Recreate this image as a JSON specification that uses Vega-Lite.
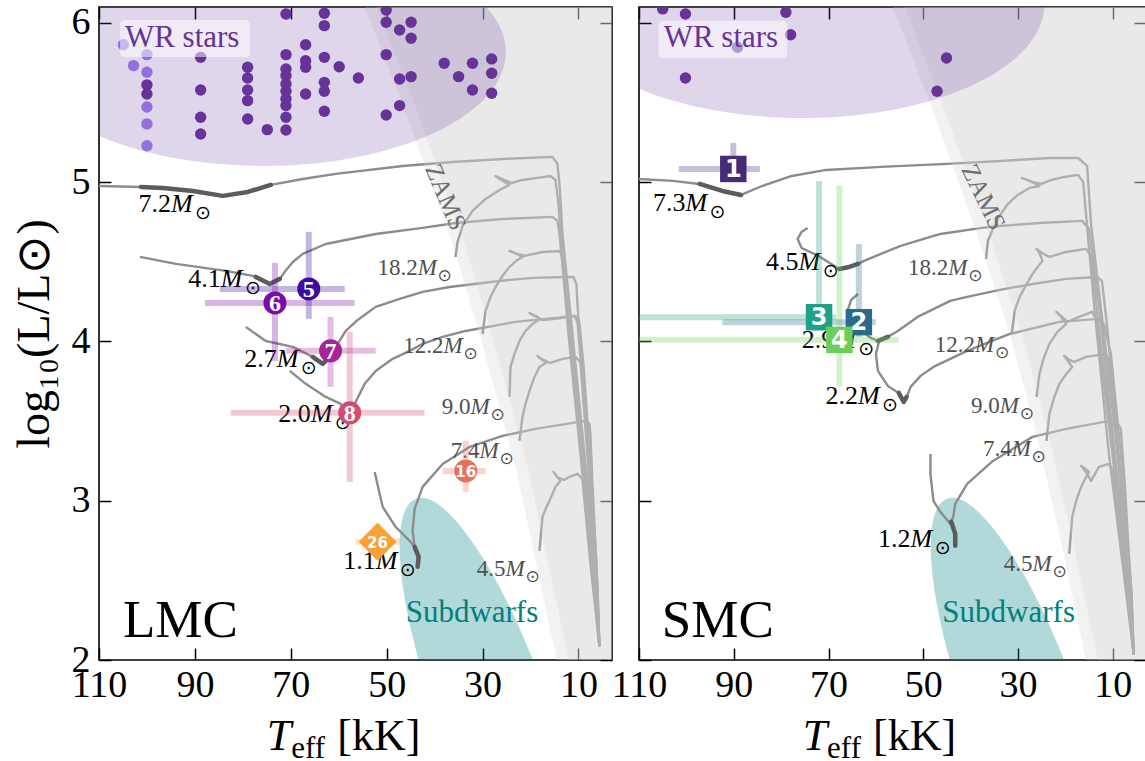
{
"$schema":"https://vega.github.io/schema/vega-lite/v6.json",
"background":"white",
"padding":{"left":10,"top":3,"right":0,"bottom":0},
"bounds":"flush",
"spacing":27,
"config":{
 "view":{"stroke":"black","strokeWidth":1.6},
 "axis":{"domain":false,"grid":false,"tickSize":-12,"tickWidth":1.5,"tickColor":"black","labelFont":"Liberation Serif","labelFontSize":38,"labelColor":"black","labelFlush":false,"labelOverlap":false,"titleFont":"Liberation Serif","titleFontSize":46,"titleFontWeight":"normal","titleColor":"black","zindex":1},
 "text":{"font":"Liberation Serif"}
},
"resolve":{"scale":{"x":"independent","y":"independent","color":"independent"}},
"datasets":{
 "trL":[
  {"k":"1","T":[35.63,35.21,34.17,32.08,29.38,26.46,24.38,26.46,27.29,25.83,23.96,21.67,18.54,15.83,14.79,14.17,13.33,12.08,10.63,9.17,7.71,6.46,5.63,6.04,7.08,8.75,10.42,12.08,13.33,13.96,14.38,15.42,25.83,36.25,46.67,60.63,67.5,74.17,78.96,84.17,90.42,96.67,101.25,109.8,113],
   "L":[4.531,4.625,4.725,4.82,4.895,4.951,4.983,5.02,5.039,5.02,4.995,5.014,5.027,5.039,5.014,4.863,4.487,4.047,3.608,3.169,2.729,2.352,2.089,2.352,2.792,3.294,3.796,4.298,4.675,4.989,5.115,5.159,5.146,5.127,5.102,5.052,5.02,4.983,4.939,4.914,4.945,4.964,4.97,4.976,4.976]},
  {"k":"2","T":[30.0,29.38,28.33,27.29,25.83,24.38,22.71,21.67,23.75,24.38,22.71,21.25,17.5,13.96,13.33,12.29,10.21,8.13,5.63,6.46,8.33,10.42,12.92,13.96,14.38,15.42,25.83,35.63,42.5,52.29,62.71,67.5,69.58,71.25,72.29,74.38,77.29,77.92,83.54,93.96,101.46],
   "L":[4.047,4.192,4.28,4.342,4.412,4.468,4.512,4.531,4.562,4.568,4.55,4.537,4.562,4.568,4.537,4.236,3.608,2.98,2.089,2.478,3.106,3.734,4.361,4.675,4.757,4.782,4.769,4.744,4.713,4.675,4.612,4.55,4.499,4.437,4.393,4.361,4.405,4.412,4.443,4.487,4.531]},
  {"k":"3","T":[24.38,24.17,23.33,22.29,21.04,19.58,17.92,19.58,20.21,18.54,17.5,14.79,10.83,10.21,8.75,7.08,6.04,5.63,6.25,7.71,9.17,10.21,10.42,11.04,12.71,19.58,26.46,36.88,42.5,47.29,52.29,56.04,58.54,60.21,61.67,62.71,63.33,65.42,69.58,75.21,79.37],
   "L":[3.652,3.84,3.922,4.003,4.066,4.11,4.142,4.167,4.179,4.154,4.135,4.142,4.16,4.123,3.608,2.98,2.415,2.089,2.541,3.169,3.796,4.236,4.361,4.405,4.405,4.399,4.38,4.342,4.311,4.267,4.217,4.135,4.066,3.985,3.909,3.878,3.859,3.903,3.966,4.003,4.091]},
  {"k":"4","T":[22.29,21.67,21.04,20.21,19.17,18.13,16.46,18.13,18.54,17.29,15.83,13.33,10.63,9.58,8.13,6.67,5.63,6.04,7.5,8.96,9.79,10.0,10.63,12.71,23.13,33.54,38.33,42.5,45.21,48.75,52.29,54.58,55.63,56.46,56.67,57.71,59.17,59.58,62.71,66.88,70.21],
   "L":[3.376,3.526,3.608,3.69,3.777,3.84,3.872,3.897,3.909,3.878,3.865,3.891,3.903,3.872,3.294,2.604,2.089,2.478,3.231,3.859,4.11,4.142,4.16,4.154,4.123,4.066,4.029,3.985,3.941,3.891,3.815,3.734,3.671,3.621,3.595,3.558,3.577,3.608,3.652,3.734,3.815]},
  {"k":"5","T":[18.13,17.5,16.67,16.04,14.79,13.75,14.79,15.21,14.17,12.92,11.88,10.21,9.17,7.5,5.63,6.25,7.08,7.5,7.71,8.54,18.96,25.83,32.71,38.33,42.5,44.17,44.58,44.17,45.21,48.13,50.83,52.5],
   "L":[2.685,2.899,2.961,2.999,3.087,3.125,3.162,3.181,3.143,3.131,3.15,3.169,3.137,2.604,2.089,2.604,3.106,3.42,3.482,3.501,3.451,3.407,3.338,3.231,3.087,2.949,2.811,2.71,2.748,2.836,2.961,3.181]}
 ],
 "thL":[
  {"k":"1","T":[74.17,78.96,84.17,90.42,96.67,101.25],"L":[4.983,4.939,4.914,4.945,4.964,4.97]},
  {"k":"2","T":[72.29,74.38,77.29],"L":[4.393,4.361,4.405]},
  {"k":"3","T":[62.71,63.33,65.42],"L":[3.878,3.859,3.903]},
  {"k":"4","T":[56.67,57.71,59.17],"L":[3.595,3.558,3.577]},
  {"k":"5","T":[44.17,43.33,43.54],"L":[2.71,2.648,2.585]}
 ],
 "zL":[{"T":[14.16,14.79,23.12,30.62,36.25,46.67,54.58,55.9],"L":[1.95,2.039,3.213,4.047,4.612,5.491,6.1,6.2]}],
 "zL2":[{"T":[11.7,12.3,20.6,28.1,33.7,44.2,52.1,53.4],"L":[1.95,2.039,3.213,4.047,4.612,5.491,6.1,6.2]}],
 "trS":[
  {"k":"1","T":[36.77,36.36,35.31,34.06,32.17,30.08,27.57,25.48,27.57,29.24,26.94,25.06,22.97,20.25,17.32,16.27,13.97,10.83,7.69,5.6,6.23,8.74,11.88,14.6,15.43,17.32,23.18,33.84,44.93,58.95,70.46,77.78,84.05,88.45,92.42,97.23,102.88,110.0,113],
   "L":[4.518,4.631,4.707,4.782,4.863,4.92,4.964,4.976,5.008,5.027,5.002,4.989,5.014,5.033,5.046,5.002,4.236,3.294,2.541,2.039,2.478,3.231,4.047,4.738,5.102,5.152,5.152,5.133,5.115,5.096,5.077,5.039,4.976,4.92,4.945,4.989,5.008,5.02,5.02]},
  {"k":"2","T":[31.33,30.71,29.66,28.2,26.52,24.85,25.48,26.1,24.64,23.38,19.83,15.64,14.6,11.88,8.74,5.6,6.65,9.79,12.92,15.02,16.48,25.48,33.84,37.61,46.4,54.77,58.95,62.51,63.76,65.64,67.74,69.41,72.13,75.69,76.52,75.69,74.43],
   "L":[4.047,4.192,4.28,4.361,4.443,4.506,4.556,4.581,4.55,4.531,4.562,4.581,4.537,3.796,2.98,2.039,2.478,3.357,4.236,4.707,4.757,4.744,4.725,4.713,4.675,4.6,4.55,4.506,4.487,4.468,4.455,4.487,4.537,4.587,4.644,4.688,4.713]},
  {"k":"3","T":[26.1,25.48,24.64,23.38,21.71,19.83,21.29,21.92,20.67,19.62,17.11,14.39,13.55,10.83,7.9,5.6,6.65,9.16,11.25,12.3,13.34,19.83,26.94,33.84,40.75,44.31,51.21,55.39,57.49,59.58,61.46,63.13,65.23,65.85,65.23,63.76],
   "L":[3.652,3.796,3.891,3.985,4.06,4.11,4.167,4.186,4.154,4.123,4.154,4.186,4.142,3.482,2.729,2.039,2.541,3.42,4.11,4.38,4.405,4.393,4.361,4.324,4.28,4.255,4.154,4.066,4.029,4.003,4.029,4.079,4.142,4.204,4.261,4.298]},
  {"k":"4","T":[24.01,23.38,22.34,21.29,19.83,18.57,19.83,20.25,19.2,18.15,15.64,11.46,10.83,8.74,7.07,5.6,6.02,8.32,10.41,11.88,12.92,21.29,31.75,40.75,47.86,50.58,52.67,53.51,54.14,55.18,57.49,59.58,60.0,59.37],
   "L":[3.376,3.545,3.652,3.734,3.796,3.84,3.891,3.909,3.884,3.872,3.903,3.922,3.878,3.231,2.604,2.039,2.415,3.294,3.922,4.11,4.142,4.123,4.047,3.941,3.84,3.784,3.715,3.652,3.621,3.677,3.721,3.815,3.922,3.997]},
  {"k":"5","T":[19.2,18.57,17.74,16.69,15.85,15.02,16.06,16.69,15.43,14.6,12.92,10.83,10.0,7.69,5.6,6.02,7.48,8.32,9.16,11.88,19.83,26.94,35.31,40.75,43.26,43.68,44.31,46.4,47.86,48.49,48.49],
   "L":[2.666,2.899,2.999,3.087,3.137,3.181,3.206,3.219,3.169,3.125,3.213,3.231,3.187,2.604,2.039,2.352,3.106,3.451,3.495,3.495,3.451,3.401,3.25,3.106,2.98,2.899,2.855,2.93,2.999,3.169,3.294]}
 ],
 "thS":[
  {"k":"1","T":[88.45,92.42,97.23],"L":[4.92,4.945,4.989]},
  {"k":"2","T":[63.76,65.64,67.74],"L":[4.487,4.468,4.455]},
  {"k":"3","T":[57.49,59.58],"L":[4.029,4.003]},
  {"k":"4","T":[53.51,54.14,55.18],"L":[3.652,3.621,3.677]},
  {"k":"5","T":[44.1,43.26,43.26],"L":[2.868,2.792,2.717]}
 ],
 "zS":[{"T":[15.32,15.64,21.3,26.11,31.75,38.66,48.49,56.44,57.7],"L":[1.95,1.995,2.792,3.42,4.047,4.675,5.491,6.1,6.2]}],
 "zS2":[{"T":[12.8,13.1,18.8,23.6,29.2,36.1,46.0,53.9,55.2],"L":[1.95,1.995,2.792,3.42,4.047,4.675,5.491,6.1,6.2]}],
 "wrL":[
  {"T":104.9,"L":5.863,"g":"b"},{"T":102.8,"L":5.732,"g":"b"},{"T":100,"L":5.801,"g":"b"},{"T":100,"L":5.69,"g":"b"},{"T":100,"L":5.611,"g":"a"},{"T":100,"L":5.554,"g":"a"},{"T":100,"L":5.472,"g":"b"},{"T":100,"L":5.366,"g":"b"},{"T":100,"L":5.229,"g":"b"},
  {"T":88.8,"L":5.784,"g":"a"},{"T":88.8,"L":5.579,"g":"a"},{"T":88.8,"L":5.408,"g":"a"},{"T":88.8,"L":5.303,"g":"a"},
  {"T":79,"L":5.722,"g":"a"},{"T":79,"L":5.654,"g":"a"},{"T":79,"L":5.579,"g":"a"},{"T":79,"L":5.512,"g":"a"},{"T":79,"L":5.397,"g":"a"},
  {"T":74.9,"L":5.33,"g":"a"},
  {"T":71,"L":6.056,"g":"a"},{"T":71,"L":5.801,"g":"a"},{"T":71,"L":5.711,"g":"a"},{"T":71,"L":5.669,"g":"a"},{"T":71,"L":5.617,"g":"a"},{"T":71,"L":5.571,"g":"a"},{"T":71,"L":5.523,"g":"a"},{"T":71,"L":5.481,"g":"a"},{"T":71,"L":5.408,"g":"a"},{"T":71,"L":5.328,"g":"a"},
  {"T":66.9,"L":5.863,"g":"a"},{"T":66.9,"L":5.763,"g":"a"},{"T":66.9,"L":5.722,"g":"a"},{"T":66.9,"L":5.554,"g":"a"},
  {"T":63,"L":6.061,"g":"a"},{"T":63,"L":5.983,"g":"a"},{"T":63,"L":5.784,"g":"a"},{"T":63,"L":5.627,"g":"a"},{"T":63,"L":5.571,"g":"a"},{"T":63,"L":5.445,"g":"a"},
  {"T":59.9,"L":5.725,"g":"a"},{"T":55.9,"L":5.654,"g":"a"},
  {"T":50.1,"L":6.081,"g":"a"},{"T":50.1,"L":6.004,"g":"a"},{"T":50.1,"L":5.801,"g":"a"},{"T":50.1,"L":5.422,"g":"a"},
  {"T":47.3,"L":5.956,"g":"a"},{"T":47.3,"L":5.648,"g":"a"},{"T":47.3,"L":5.481,"g":"a"},
  {"T":44.9,"L":6.004,"g":"a"},{"T":44.9,"L":5.904,"g":"a"},{"T":44.9,"L":5.663,"g":"a"},
  {"T":38,"L":5.747,"g":"a"},{"T":35,"L":5.663,"g":"a"},{"T":32.1,"L":5.747,"g":"a"},{"T":32.1,"L":5.579,"g":"a"},
  {"T":28.1,"L":5.774,"g":"a"},{"T":28.1,"L":5.684,"g":"a"},{"T":28.1,"L":5.558,"g":"a"}
 ],
 "wrS":[
  {"T":105.0,"L":6.088},{"T":100.2,"L":6.056},{"T":79.0,"L":6.067},{"T":78.0,"L":5.926},{"T":89.2,"L":5.847},{"T":100.2,"L":5.654},{"T":45.1,"L":5.78},{"T":47.1,"L":5.571}
 ],
 "mkL":[
  {"id":5,"T":66.25,"L":4.33,"Tlo":84.8,"Thi":58.75,"Llo":4.142,"Lhi":4.688},
  {"id":6,"T":73.3,"L":4.242,"Tlo":87.9,"Thi":56.7,"Llo":3.878,"Lhi":4.493},
  {"id":7,"T":61.7,"L":3.941,"Tlo":71.0,"Thi":52.3,"Llo":3.715,"Lhi":4.154},
  {"id":8,"T":57.7,"L":3.552,"Tlo":82.5,"Thi":42.1,"Llo":3.118,"Lhi":4.06},
  {"id":16,"T":33.5,"L":3.187,"Tlo":38.3,"Thi":29.4,"Llo":3.056,"Lhi":3.376},
  {"id":26,"T":51.9,"L":2.742,"Tlo":56.5,"Thi":47.1,"Llo":2.635,"Lhi":2.855}
 ],
 "mkS":[
  {"id":1,"T":90.1,"L":5.083,"Tlo":101.6,"Thi":84.5,"Llo":5.002,"Lhi":5.246},
  {"id":2,"T":63.6,"L":4.121,"Tlo":92.4,"Thi":60.0,"Llo":4.029,"Lhi":4.612},
  {"id":3,"T":72.0,"L":4.152,"Tlo":118,"Thi":68.4,"Llo":4.12,"Lhi":5.008},
  {"id":4,"T":67.7,"L":4.01,"Tlo":118,"Thi":55.2,"Llo":3.721,"Lhi":4.976}
 ],
 "mlL":[
  {"n":"7.2","T":95.0,"L":4.813,"f":1},{"n":"4.1","T":84.58,"L":4.342,"f":1},{"n":"2.7","T":72.92,"L":3.84,"f":1},{"n":"2.0","T":65.83,"L":3.495,"f":1},{"n":"1.1","T":52.29,"L":2.572,"f":1},
  {"n":"18.2","T":43.54,"L":4.418,"f":0},{"n":"12.2","T":38.12,"L":3.928,"f":0},{"n":"9.0","T":32.5,"L":3.545,"f":0},{"n":"7.4","T":30.62,"L":3.269,"f":0},{"n":"4.5","T":25.21,"L":2.528,"f":0}
 ],
 "mlS":[
  {"n":"7.3","T":100.17,"L":4.82,"f":1},{"n":"4.5","T":76.32,"L":4.449,"f":1},{"n":"2.9","T":68.79,"L":3.96,"f":1},{"n":"2.2","T":63.77,"L":3.608,"f":1},{"n":"1.2","T":52.68,"L":2.71,"f":1},
  {"n":"18.2","T":44.73,"L":4.418,"f":0},{"n":"12.2","T":39.08,"L":3.934,"f":0},{"n":"9.0","T":33.85,"L":3.552,"f":0},{"n":"7.4","T":31.34,"L":3.282,"f":0},{"n":"4.5","T":26.95,"L":2.56,"f":0}
 ]
},
"hconcat":[
 {
  "width":513,"height":653,
  "resolve":{"axis":{"x":"independent","y":"independent"}},
  "layer":[
   {"resolve":{"scale":{"color":"independent"}},
    "layer":[
     {"data":{"values":[{"T":28.54,"L":1.744}]},
      "mark":{"type":"point","shape":"M 55 0 C 55 118.7 30.4 215 0 215 C -30.4 215 -55 118.7 -55 0 C -55 -118.7 -30.4 -215 0 -215 C 30.4 -215 55 -118.7 55 0 Z","size":4,"filled":true,"color":"#008080","opacity":0.3,"strokeWidth":0,"angle":-20,"clip":true},
      "encoding":{
       "x":{"field":"T","type":"quantitative","scale":{"domain":[3,110],"reverse":true,"nice":false,"zero":false},"axis":null},
       "y":{"field":"L","type":"quantitative","scale":{"domain":[2,6.1],"nice":false,"zero":false},"axis":null}}},
     {"data":{"name":"trL"},"transform":[{"flatten":["T","L"]}],
      "mark":{"type":"line","color":"#8c8c8c","strokeWidth":2.4,"clip":true,"strokeJoin":"round"},
      "encoding":{"x":{"field":"T","type":"quantitative","axis":null},"y":{"field":"L","type":"quantitative","axis":null},"detail":{"field":"k","type":"nominal"},"order":{"value":null}}},
     {"data":{"name":"thL"},"transform":[{"flatten":["T","L"]}],
      "mark":{"type":"line","color":"#5c5c5c","strokeWidth":4.5,"clip":true,"strokeCap":"round","strokeJoin":"round"},
      "encoding":{"x":{"field":"T","type":"quantitative","axis":null},"y":{"field":"L","type":"quantitative","axis":null},"detail":{"field":"k","type":"nominal"},"order":{"value":null}}},
     {"data":{"name":"zL"},"transform":[{"flatten":["T","L"]}],
      "mark":{"type":"area","orient":"horizontal","color":"#d3d3d3","opacity":0.3,"clip":true},
      "encoding":{"y":{"field":"L","type":"quantitative","axis":null},"x":{"field":"T","type":"quantitative","axis":null},"x2":{"datum":0}}},
     {"data":{"name":"zL2"},"transform":[{"flatten":["T","L"]}],
      "mark":{"type":"area","orient":"horizontal","color":"#d3d3d3","opacity":0.28,"clip":true},
      "encoding":{"y":{"field":"L","type":"quantitative","axis":null},"x":{"field":"T","type":"quantitative","axis":null},"x2":{"datum":0}}},
     {"data":{"values":[{"T":75.83,"L":5.818}]},
      "mark":{"type":"point","shape":"M 243 0 C 243 63 134.2 114 0 114 C -134.2 114 -243 63 -243 0 C -243 -63 -134.2 -114 0 -114 C 134.2 -114 243 -63 243 0 Z","size":4,"filled":true,"color":"#663399","opacity":0.2,"strokeWidth":0,"clip":true},
      "encoding":{"x":{"field":"T","type":"quantitative","axis":null},"y":{"field":"L","type":"quantitative","axis":null}}},
     {"data":{"name":"wrL"},
      "mark":{"type":"point","shape":"circle","size":130,"filled":true,"opacity":1,"strokeWidth":0,"clip":true},
      "encoding":{"x":{"field":"T","type":"quantitative","axis":null},"y":{"field":"L","type":"quantitative","axis":null},"color":{"field":"g","type":"nominal","scale":{"domain":["a","b"],"range":["#663399","#9370db"]},"legend":null}}},
     {"data":{"name":"mlL"},"transform":[{"filter":"datum.f == 1"}],
      "mark":{"type":"text","align":"right","baseline":"alphabetic","fontSize":26,"color":"black"},
      "encoding":{"x":{"field":"T","type":"quantitative","axis":null},"y":{"field":"L","type":"quantitative","axis":null},"text":{"field":"n","type":"nominal"}}},
     {"data":{"name":"mlL"},"transform":[{"filter":"datum.f == 1"}],
      "mark":{"type":"text","text":"M","align":"left","baseline":"alphabetic","fontSize":26,"fontStyle":"italic","color":"black"},
      "encoding":{"x":{"field":"T","type":"quantitative","axis":null},"y":{"field":"L","type":"quantitative","axis":null}}},
     {"data":{"name":"mlL"},"transform":[{"filter":"datum.f == 1"}],
      "mark":{"type":"text","text":"⊙","font":"DejaVu Sans","align":"center","baseline":"middle","fontSize":19,"dx":32,"dy":1,"color":"black"},
      "encoding":{"x":{"field":"T","type":"quantitative","axis":null},"y":{"field":"L","type":"quantitative","axis":null}}},
     {"data":{"name":"mlL"},"transform":[{"filter":"datum.f == 0"}],
      "mark":{"type":"text","align":"right","baseline":"alphabetic","fontSize":23,"color":"#505050"},
      "encoding":{"x":{"field":"T","type":"quantitative","axis":null},"y":{"field":"L","type":"quantitative","axis":null},"text":{"field":"n","type":"nominal"}}},
     {"data":{"name":"mlL"},"transform":[{"filter":"datum.f == 0"}],
      "mark":{"type":"text","text":"M","align":"left","baseline":"alphabetic","fontSize":23,"fontStyle":"italic","color":"#505050"},
      "encoding":{"x":{"field":"T","type":"quantitative","axis":null},"y":{"field":"L","type":"quantitative","axis":null}}},
     {"data":{"name":"mlL"},"transform":[{"filter":"datum.f == 0"}],
      "mark":{"type":"text","text":"⊙","font":"DejaVu Sans","align":"center","baseline":"middle","fontSize":17,"dx":27,"dy":1,"color":"#505050"},
      "encoding":{"x":{"field":"T","type":"quantitative","axis":null},"y":{"field":"L","type":"quantitative","axis":null}}},
     {"data":{"name":"mkL"},
      "mark":{"type":"rule","strokeWidth":6,"opacity":0.3,"clip":true},
      "encoding":{"x":{"field":"Tlo","type":"quantitative","axis":null},"x2":{"field":"Thi"},"y":{"field":"L","type":"quantitative","axis":null},
       "color":{"field":"id","type":"nominal","scale":{"domain":[5,6,7,8,16,26],"range":["#3f0a9e","#7a0da8","#a8239a","#d24b72","#e8705a","#f9a135"]},"legend":null}}},
     {"data":{"name":"mkL"},
      "mark":{"type":"rule","strokeWidth":6,"opacity":0.3,"clip":true},
      "encoding":{"x":{"field":"T","type":"quantitative","axis":null},"y":{"field":"Llo","type":"quantitative","axis":null},"y2":{"field":"Lhi"},
       "color":{"field":"id","type":"nominal","scale":{"domain":[5,6,7,8,16,26],"range":["#3f0a9e","#7a0da8","#a8239a","#d24b72","#e8705a","#f9a135"]},"legend":null}}},
     {"data":{"name":"mkL"},"transform":[{"filter":"datum.id != 26"}],
      "mark":{"type":"point","shape":"circle","size":531,"filled":true,"opacity":1,"strokeWidth":0},
      "encoding":{"x":{"field":"T","type":"quantitative","axis":null},"y":{"field":"L","type":"quantitative","axis":null},
       "color":{"field":"id","type":"nominal","scale":{"domain":[5,6,7,8,16,26],"range":["#3f0a9e","#7a0da8","#a8239a","#d24b72","#e8705a","#f9a135"]},"legend":null}}},
     {"data":{"name":"mkL"},"transform":[{"filter":"datum.id == 26"}],
      "mark":{"type":"point","shape":"diamond","size":1444,"filled":true,"opacity":1,"strokeWidth":0},
      "encoding":{"x":{"field":"T","type":"quantitative","axis":null},"y":{"field":"L","type":"quantitative","axis":null},
       "color":{"field":"id","type":"nominal","scale":{"domain":[5,6,7,8,16,26],"range":["#3f0a9e","#7a0da8","#a8239a","#d24b72","#e8705a","#f9a135"]},"legend":null}}},
     {"data":{"name":"mkL"},"transform":[{"filter":"datum.id < 10"}],
      "mark":{"type":"text","font":"Liberation Serif","fontWeight":"bold","fontSize":24,"color":"white","baseline":"middle","dy":1},
      "encoding":{"x":{"field":"T","type":"quantitative","axis":null},"y":{"field":"L","type":"quantitative","axis":null},"text":{"field":"id","type":"nominal"}}},
     {"data":{"name":"mkL"},"transform":[{"filter":"datum.id >= 10"}],
      "mark":{"type":"text","font":"DejaVu Sans","fontWeight":"bold","fontSize":15,"color":"white","baseline":"middle","dy":1},
      "encoding":{"x":{"field":"T","type":"quantitative","axis":null},"y":{"field":"L","type":"quantitative","axis":null},"text":{"field":"id","type":"nominal"}}},
     {"data":{"values":[{"T1":105.6,"T2":78.5,"L1":5.786,"L2":6.019}]},
      "mark":{"type":"rect","color":"white","opacity":0.5,"cornerRadius":4},
      "encoding":{"x":{"field":"T1","type":"quantitative","axis":null},"x2":{"field":"T2"},"y":{"field":"L1","type":"quantitative","axis":null},"y2":{"field":"L2"}}},
     {"data":{"values":[{"T":104.6,"L":5.847}]},
      "mark":{"type":"text","text":"WR stars","align":"left","baseline":"alphabetic","fontSize":31,"color":"#663399"},
      "encoding":{"x":{"field":"T","type":"quantitative","axis":null},"y":{"field":"L","type":"quantitative","axis":null}}},
     {"data":{"values":[{"T":46.04,"L":2.24}]},
      "mark":{"type":"text","text":"Subdwarfs","align":"left","baseline":"alphabetic","fontSize":31,"color":"#008080"},
      "encoding":{"x":{"field":"T","type":"quantitative","axis":null},"y":{"field":"L","type":"quantitative","axis":null}}},
     {"data":{"values":[{"T":37.7,"L":4.907}]},
      "mark":{"type":"text","text":"ZAMS","angle":67,"align":"center","baseline":"middle","fontSize":25,"color":"#6e6e6e"},
      "encoding":{"x":{"field":"T","type":"quantitative","axis":null},"y":{"field":"L","type":"quantitative","axis":null}}},
     {"data":{"values":[{"T":105.0,"L":2.145}]},
      "mark":{"type":"text","text":"LMC","align":"left","baseline":"alphabetic","fontSize":53,"color":"black"},
      "encoding":{"x":{"field":"T","type":"quantitative","axis":null},"y":{"field":"L","type":"quantitative","axis":null}}},
     {"data":{"values":[{"T":69.9,"L":1.436}]},
      "mark":{"type":"text","text":"T","align":"right","baseline":"alphabetic","fontSize":44,"fontStyle":"italic","color":"black"},
      "encoding":{"x":{"field":"T","type":"quantitative","axis":null},"y":{"field":"L","type":"quantitative","axis":null}}},
     {"data":{"values":[{"T":69.9,"L":1.436}]},
      "mark":{"type":"text","text":"eff","align":"left","baseline":"alphabetic","fontSize":31,"dy":8,"color":"black"},
      "encoding":{"x":{"field":"T","type":"quantitative","axis":null},"y":{"field":"L","type":"quantitative","axis":null}}},
     {"data":{"values":[{"T":69.9,"L":1.436}]},
      "mark":{"type":"text","text":"[kK]","align":"left","baseline":"alphabetic","fontSize":44,"dx":46,"color":"black"},
      "encoding":{"x":{"field":"T","type":"quantitative","axis":null},"y":{"field":"L","type":"quantitative","axis":null}}}
    ]},
   {"data":{"values":[{"T":50,"L":4}]},
    "mark":{"type":"point","opacity":0},
    "encoding":{"x":{"field":"T","type":"quantitative","axis":{"orient":"bottom","values":[110,90,70,50,30,10],"title":null,"labelPadding":18}},
                "y":{"field":"L","type":"quantitative","axis":{"orient":"left","values":[2,3,4,5,6],"title":"log₁₀(L/L⊙)","labelPadding":21,"titlePadding":13}}}},
   {"data":{"values":[{"T":50,"L":4}]},
    "mark":{"type":"point","opacity":0},
    "encoding":{"x":{"field":"T","type":"quantitative","axis":{"orient":"top","values":[110,90,70,50,30,10],"labels":false,"title":null}},
                "y":{"field":"L","type":"quantitative","axis":{"orient":"right","values":[2,3,4,5,6],"labels":false,"title":null}}}}
  ]
 },
 {
  "width":507,"height":653,
  "resolve":{"axis":{"x":"independent","y":"independent"}},
  "layer":[
   {"resolve":{"scale":{"color":"independent"}},
    "layer":[
     {"data":{"values":[{"T":29.45,"L":1.744}]},
      "mark":{"type":"point","shape":"M 55 0 C 55 118.7 30.4 215 0 215 C -30.4 215 -55 118.7 -55 0 C -55 -118.7 -30.4 -215 0 -215 C 30.4 -215 55 -118.7 55 0 Z","size":4,"filled":true,"color":"#008080","opacity":0.3,"strokeWidth":0,"angle":-20,"clip":true},
      "encoding":{
       "x":{"field":"T","type":"quantitative","scale":{"domain":[3,110],"reverse":true,"nice":false,"zero":false},"axis":null},
       "y":{"field":"L","type":"quantitative","scale":{"domain":[2,6.1],"nice":false,"zero":false},"axis":null}}},
     {"data":{"name":"trS"},"transform":[{"flatten":["T","L"]}],
      "mark":{"type":"line","color":"#8c8c8c","strokeWidth":2.4,"clip":true,"strokeJoin":"round"},
      "encoding":{"x":{"field":"T","type":"quantitative","axis":null},"y":{"field":"L","type":"quantitative","axis":null},"detail":{"field":"k","type":"nominal"},"order":{"value":null}}},
     {"data":{"name":"thS"},"transform":[{"flatten":["T","L"]}],
      "mark":{"type":"line","color":"#5c5c5c","strokeWidth":4.5,"clip":true,"strokeCap":"round","strokeJoin":"round"},
      "encoding":{"x":{"field":"T","type":"quantitative","axis":null},"y":{"field":"L","type":"quantitative","axis":null},"detail":{"field":"k","type":"nominal"},"order":{"value":null}}},
     {"data":{"name":"zS"},"transform":[{"flatten":["T","L"]}],
      "mark":{"type":"area","orient":"horizontal","color":"#d3d3d3","opacity":0.3,"clip":true},
      "encoding":{"y":{"field":"L","type":"quantitative","axis":null},"x":{"field":"T","type":"quantitative","axis":null},"x2":{"datum":0}}},
     {"data":{"name":"zS2"},"transform":[{"flatten":["T","L"]}],
      "mark":{"type":"area","orient":"horizontal","color":"#d3d3d3","opacity":0.28,"clip":true},
      "encoding":{"y":{"field":"L","type":"quantitative","axis":null},"x":{"field":"T","type":"quantitative","axis":null},"x2":{"datum":0}}},
     {"data":{"values":[{"T":75.69,"L":6.119}]},
      "mark":{"type":"point","shape":"M 243 0 C 243 63 134.2 114 0 114 C -134.2 114 -243 63 -243 0 C -243 -63 -134.2 -114 0 -114 C 134.2 -114 243 -63 243 0 Z","size":4,"filled":true,"color":"#663399","opacity":0.2,"strokeWidth":0,"clip":true},
      "encoding":{"x":{"field":"T","type":"quantitative","axis":null},"y":{"field":"L","type":"quantitative","axis":null}}},
     {"data":{"name":"wrS"},
      "mark":{"type":"point","shape":"circle","size":130,"filled":true,"opacity":1,"strokeWidth":0,"clip":true,"color":"#663399"},
      "encoding":{"x":{"field":"T","type":"quantitative","axis":null},"y":{"field":"L","type":"quantitative","axis":null}}},
     {"data":{"name":"mlS"},"transform":[{"filter":"datum.f == 1"}],
      "mark":{"type":"text","align":"right","baseline":"alphabetic","fontSize":26,"color":"black"},
      "encoding":{"x":{"field":"T","type":"quantitative","axis":null},"y":{"field":"L","type":"quantitative","axis":null},"text":{"field":"n","type":"nominal"}}},
     {"data":{"name":"mlS"},"transform":[{"filter":"datum.f == 1"}],
      "mark":{"type":"text","text":"M","align":"left","baseline":"alphabetic","fontSize":26,"fontStyle":"italic","color":"black"},
      "encoding":{"x":{"field":"T","type":"quantitative","axis":null},"y":{"field":"L","type":"quantitative","axis":null}}},
     {"data":{"name":"mlS"},"transform":[{"filter":"datum.f == 1"}],
      "mark":{"type":"text","text":"⊙","font":"DejaVu Sans","align":"center","baseline":"middle","fontSize":19,"dx":32,"dy":1,"color":"black"},
      "encoding":{"x":{"field":"T","type":"quantitative","axis":null},"y":{"field":"L","type":"quantitative","axis":null}}},
     {"data":{"name":"mlS"},"transform":[{"filter":"datum.f == 0"}],
      "mark":{"type":"text","align":"right","baseline":"alphabetic","fontSize":23,"color":"#505050"},
      "encoding":{"x":{"field":"T","type":"quantitative","axis":null},"y":{"field":"L","type":"quantitative","axis":null},"text":{"field":"n","type":"nominal"}}},
     {"data":{"name":"mlS"},"transform":[{"filter":"datum.f == 0"}],
      "mark":{"type":"text","text":"M","align":"left","baseline":"alphabetic","fontSize":23,"fontStyle":"italic","color":"#505050"},
      "encoding":{"x":{"field":"T","type":"quantitative","axis":null},"y":{"field":"L","type":"quantitative","axis":null}}},
     {"data":{"name":"mlS"},"transform":[{"filter":"datum.f == 0"}],
      "mark":{"type":"text","text":"⊙","font":"DejaVu Sans","align":"center","baseline":"middle","fontSize":17,"dx":27,"dy":1,"color":"#505050"},
      "encoding":{"x":{"field":"T","type":"quantitative","axis":null},"y":{"field":"L","type":"quantitative","axis":null}}},
     {"data":{"name":"mkS"},
      "mark":{"type":"rule","strokeWidth":6,"opacity":0.3,"clip":true},
      "encoding":{"x":{"field":"Tlo","type":"quantitative","axis":null},"x2":{"field":"Thi"},"y":{"field":"L","type":"quantitative","axis":null},
       "color":{"field":"id","type":"nominal","scale":{"domain":[1,2,3,4],"range":["#462b7a","#2c6a8d","#1fa187","#6ccd5a"]},"legend":null}}},
     {"data":{"name":"mkS"},
      "mark":{"type":"rule","strokeWidth":6,"opacity":0.3,"clip":true},
      "encoding":{"x":{"field":"T","type":"quantitative","axis":null},"y":{"field":"Llo","type":"quantitative","axis":null},"y2":{"field":"Lhi"},
       "color":{"field":"id","type":"nominal","scale":{"domain":[1,2,3,4],"range":["#462b7a","#2c6a8d","#1fa187","#6ccd5a"]},"legend":null}}},
     {"data":{"name":"mkS"},
      "mark":{"type":"point","shape":"square","size":700,"filled":true,"opacity":1,"strokeWidth":0},
      "encoding":{"x":{"field":"T","type":"quantitative","axis":null},"y":{"field":"L","type":"quantitative","axis":null},
       "color":{"field":"id","type":"nominal","scale":{"domain":[1,2,3,4],"range":["#462b7a","#2c6a8d","#1fa187","#6ccd5a"]},"legend":null}}},
     {"data":{"name":"mkS"},
      "mark":{"type":"text","font":"DejaVu Sans","fontWeight":"bold","fontSize":24,"color":"white","baseline":"middle","dy":1},
      "encoding":{"x":{"field":"T","type":"quantitative","axis":null},"y":{"field":"L","type":"quantitative","axis":null},"text":{"field":"id","type":"nominal"}}},
     {"data":{"values":[{"T1":105.9,"T2":78.7,"L1":5.78,"L2":6.014}]},
      "mark":{"type":"rect","color":"white","opacity":0.5,"cornerRadius":4},
      "encoding":{"x":{"field":"T1","type":"quantitative","axis":null},"x2":{"field":"T2"},"y":{"field":"L1","type":"quantitative","axis":null},"y2":{"field":"L2"}}},
     {"data":{"values":[{"T":104.8,"L":5.847}]},
      "mark":{"type":"text","text":"WR stars","align":"left","baseline":"alphabetic","fontSize":31,"color":"#663399"},
      "encoding":{"x":{"field":"T","type":"quantitative","axis":null},"y":{"field":"L","type":"quantitative","axis":null}}},
     {"data":{"values":[{"T":45.98,"L":2.24}]},
      "mark":{"type":"text","text":"Subdwarfs","align":"left","baseline":"alphabetic","fontSize":31,"color":"#008080"},
      "encoding":{"x":{"field":"T","type":"quantitative","axis":null},"y":{"field":"L","type":"quantitative","axis":null}}},
     {"data":{"values":[{"T":37.3,"L":4.907}]},
      "mark":{"type":"text","text":"ZAMS","angle":64,"align":"center","baseline":"middle","fontSize":25,"color":"#6e6e6e"},
      "encoding":{"x":{"field":"T","type":"quantitative","axis":null},"y":{"field":"L","type":"quantitative","axis":null}}},
     {"data":{"values":[{"T":105.18,"L":2.145}]},
      "mark":{"type":"text","text":"SMC","align":"left","baseline":"alphabetic","fontSize":53,"color":"black"},
      "encoding":{"x":{"field":"T","type":"quantitative","axis":null},"y":{"field":"L","type":"quantitative","axis":null}}},
     {"data":{"values":[{"T":70.3,"L":1.436}]},
      "mark":{"type":"text","text":"T","align":"right","baseline":"alphabetic","fontSize":44,"fontStyle":"italic","color":"black"},
      "encoding":{"x":{"field":"T","type":"quantitative","axis":null},"y":{"field":"L","type":"quantitative","axis":null}}},
     {"data":{"values":[{"T":70.3,"L":1.436}]},
      "mark":{"type":"text","text":"eff","align":"left","baseline":"alphabetic","fontSize":31,"dy":8,"color":"black"},
      "encoding":{"x":{"field":"T","type":"quantitative","axis":null},"y":{"field":"L","type":"quantitative","axis":null}}},
     {"data":{"values":[{"T":70.3,"L":1.436}]},
      "mark":{"type":"text","text":"[kK]","align":"left","baseline":"alphabetic","fontSize":44,"dx":46,"color":"black"},
      "encoding":{"x":{"field":"T","type":"quantitative","axis":null},"y":{"field":"L","type":"quantitative","axis":null}}}
    ]},
   {"data":{"values":[{"T":50,"L":4}]},
    "mark":{"type":"point","opacity":0},
    "encoding":{"x":{"field":"T","type":"quantitative","axis":{"orient":"bottom","values":[110,90,70,50,30,10],"title":null,"labelPadding":18}},
                "y":{"field":"L","type":"quantitative","axis":{"orient":"left","values":[2,3,4,5,6],"title":null,"labels":false}}}},
   {"data":{"values":[{"T":50,"L":4}]},
    "mark":{"type":"point","opacity":0},
    "encoding":{"x":{"field":"T","type":"quantitative","axis":{"orient":"top","values":[110,90,70,50,30,10],"labels":false,"title":null}},
                "y":{"field":"L","type":"quantitative","axis":{"orient":"right","values":[2,3,4,5,6],"labels":false,"title":null}}}}
  ]
 }
]
}
